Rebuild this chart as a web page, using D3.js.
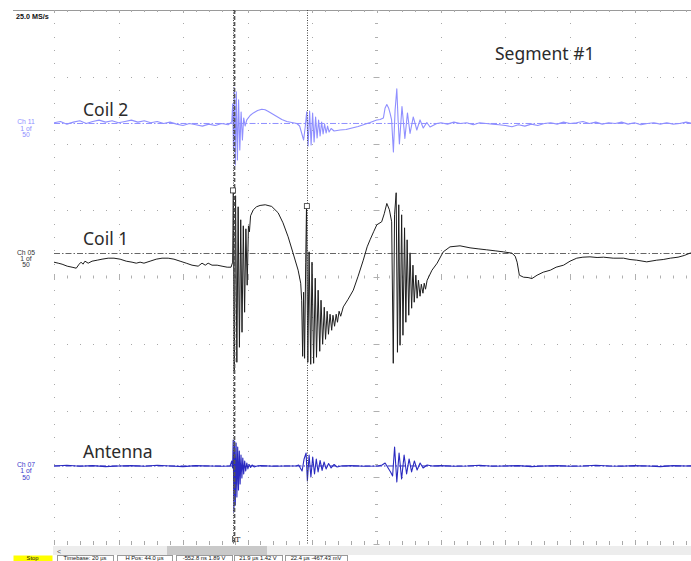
<!DOCTYPE html>
<html><head><meta charset="utf-8">
<script src="https://cdn.jsdelivr.net/npm/d3@7"></script>
<style>
html,body{margin:0;padding:0;background:#fff;overflow:hidden;}
svg{display:block;}
</style></head><body>
<script>
// ---------- DATA ----------
const timeDomain = [-56, 144];          // µs (20 µs/div, 10 div)
const sampleRateLabel = "25.0 MS/s";
const cursorTimes = [-0.5, 22.4];       // µs
const triggerTime = 0;
const cursorValues = [1.89, 1.42];      // V on Coil 1

// Coil 2 (Ch 11) – mV, 100 mV/div
const coil2Data = [
[-56,1],[-54,3],[-52,-1],[-50,2],[-48,4],[-46,0],[-44,3],[-42,5],[-40,2],[-38,4],[-36,1],[-34,3],[-32,5],[-30,2],[-28,4],[-26,1],[-24,3],[-22,0],[-20,2],[-18,-1],[-16,-3],[-14,0],[-12,-2],[-10,-4],[-8,-1],[-6,-3],[-4,0],[-2,-2],
[-0.87,2.3],[-0.59,29.3],[-0.34,-39.8],[-0.06,53.3],[0.22,-62.3],[0.53,47.3],[0.87,-54.8],[1.24,35.3],[1.61,-39.8],[2.02,17.3],[2.42,-24.8],[2.82,8.3],[3.26,-3.8],[3.78,5.3],
[4.81,12],[5.83,15.8],[7.13,19.5],[8.43,21.3],[9.46,20.6],[10.48,18],[11.78,14.3],[13.09,10.5],[14.64,6],[16.19,3],[17.74,1.5],[19.29,0],[20.16,-3.8],[20.78,-14.3],[21.4,-24.8],[21.86,-6.8],
[22.36,17.3],[22.79,-33.8],[23.26,18.8],[23.72,-32.3],[24.19,15.8],[24.65,-27.8],[25.12,9.8],[25.58,-21.8],[26.05,5.3],[26.51,-18.8],[26.98,2.3],[27.44,-15.8],[27.91,-0.8],[28.37,-14.3],[28.84,-3.8],[29.3,-12.8],
[29.92,-7.5],[30.85,-11.3],[32.71,-9.8],[34.57,-9],[36.43,-6.8],[38.3,-4.5],[40.16,-1.5],[42.02,1.5],[44.09,5.3],[45.12,6],[46.14,8.3],[46.67,23.3],[47.2,28.5],[47.75,23.3],[48.22,15],[48.68,5.3],
[49.24,-42.8],[49.77,20.3],[50.3,51.8],[50.7,5.3],[51.1,-30.8],[51.9,25.5],[52.8,-22.5],[53.6,15.8],[54.4,-15],[55.4,9.8],[56.5,-9.8],[57.5,5.3],[58.5,-6.8],[59.6,1.5],[60.6,-5.3],[62.7,0],
[64,1],[66,-1],[68,2],[70,0],[72,1],[74,-2],[76,1],[78,0],[80,-1],[82,-2],[84,-3],[86,-5],[88,-2],[90,-4],[92,-1],[94,-3],[96,0],[98,1],[100,-1],[102,2],[104,0],[106,1],[108,3],[110,0],[112,2],[114,-1],[116,1],[118,0],[120,2],[122,-1],[124,1],[126,-2],[128,0],[130,1],[132,-1],[134,1],[136,-1],[138,0],[140,2],[142,0],[144,1]
];

// Coil 1 (Ch 05) – V, 2 V/div
const coil1Data = [
[-56,-0.26],[-54.7,-0.29],[-53.5,-0.32],[-51.9,-0.38],[-50.4,-0.41],[-49.1,-0.44],[-48.2,-0.32],[-47.6,-0.26],[-47.0,-0.32],[-46.4,-0.23],[-45.4,-0.29],[-44.2,-0.23],[-42.6,-0.20],[-41.1,-0.17],[-39.2,-0.14],[-37.4,-0.14],[-35.5,-0.17],[-33.6,-0.23],[-31.8,-0.26],[-30.5,-0.29],[-29.3,-0.26],[-28.1,-0.29],[-26.2,-0.23],[-24.3,-0.17],[-22.5,-0.14],[-20.6,-0.14],[-18.8,-0.17],[-16.9,-0.23],[-15.0,-0.29],[-13.2,-0.35],[-11.3,-0.38],[-10.1,-0.29],[-9.1,-0.35],[-8.2,-0.29],[-7.0,-0.35],[-5.4,-0.35],[-3.9,-0.38],[-2.3,-0.41],[-1.1,-0.41],[-0.6,-0.26],
[-0.4,1.91],[-0.1,-3.56],[0.3,1.73],[0.7,-3.26],[1.1,1.40],[1.5,-2.81],[1.9,1.01],[2.3,-2.36],[2.7,0.83],[3.1,-1.76],[3.5,0.74],[3.9,-0.95],[4.3,0.83],[4.6,0.65],
[4.95,1.13],[5.8,1.31],[6.8,1.40],[7.9,1.44],[9.5,1.46],[11.5,1.41],[13.5,1.22],[15.0,0.92],[16.6,0.50],[18.1,0.02],[19.7,-0.50],[20.5,-0.89],
[20.8,-1.40],[21.1,-3.08],[21.4,-1.16],[21.7,-3.14],[22.05,-0.26],[22.3,1.46],[22.7,-3.26],[23.1,0.05],[23.6,-3.32],[24.0,-0.26],[24.5,-3.29],[25.0,-0.74],[25.4,-3.11],[25.9,-1.10],[26.4,-2.93],[26.8,-1.40],[27.3,-2.72],[27.8,-1.61],[28.2,-2.57],[28.7,-1.73],[29.1,-2.42],[29.6,-1.82],[30.1,-2.30],[30.5,-1.85],[31.0,-2.18],[31.5,-1.82],[31.9,-2.06],[32.4,-1.73],[32.9,-1.88],
[33.7,-1.60],[35.2,-1.37],[36.8,-1.10],[38.3,-0.68],[39.9,-0.20],[41.1,0.20],[42.0,0.41],[43.1,0.65],[44.1,0.86],[45.6,0.95],[46.4,1.19],[47.2,1.50],[48.0,1.31],[48.7,0.95],
[49.2,-3.29],[49.6,1.16],[50.1,1.82],[50.5,-2.96],[50.9,1.46],[51.3,-2.75],[51.8,1.16],[52.2,-2.45],[52.7,0.77],[53.1,-2.06],[53.5,0.41],[54.0,-1.85],[54.4,0.02],[54.9,-1.64],[55.3,-0.35],[55.7,-1.46],[56.2,-0.65],[56.6,-1.34],[57.0,-0.80],[57.5,-1.28],[57.9,-0.92],[58.4,-1.19],[58.8,-0.89],[59.2,-1.07],[59.7,-0.80],
[61.2,-0.50],[62.8,-0.29],[64.7,0.05],[66.8,0.20],[69.9,0.23],[73.0,0.17],[75.5,0.14],[78.2,0.11],[80.8,0.08],[83.3,0.05],[86.0,0.01],[87.0,-0.08],[87.6,-0.26],[88.3,-0.65],[89.6,-0.71],[91.0,-0.72],[92.2,-0.75],[93.8,-0.65],[95.7,-0.56],[97.9,-0.50],[99.7,-0.41],[102.0,-0.35],[104.0,-0.23],[106.1,-0.14],[108.0,-0.11],[110.2,-0.10],[112.4,-0.12],[114.4,-0.11],[117.4,-0.14],[120.6,-0.14],[122.6,-0.18],[124.7,-0.20],[127.8,-0.25],[130.9,-0.20],[132.9,-0.18],[135.1,-0.14],[137.5,-0.11],[139.4,-0.06],[141.2,0.01],[142.5,0.03],[144,0.05]
];

// Antenna (Ch 07) – mV, 200 mV/div
const antennaData = [
[-56,0],[-52,2],[-48,-1],[-44,1],[-40,-2],[-36,0],[-32,1],[-28,-1],[-24,2],[-20,0],[-16,-2],[-12,1],[-8,0],[-4,-1],
[-1.4,0],[-0.87,15],[-0.62,-6],[-0.43,78],[-0.22,-138],[0,75],[0.22,-117],[0.47,69],[0.71,-93],[0.96,57],[1.21,-72],[1.46,45],[1.71,-54],[1.98,33],[2.26,-36],[2.54,24],[2.82,-24],[3.13,15],[3.44,-15],[3.78,9],[4.12,-9],[4.5,4.5],[4.96,-4.5],[5.43,3],[6.05,-3],[6.98,0],
[8,1],[12,-1],[16,0],
[19.07,0],[19.85,3],[20.47,-7.5],[20.93,-15],[21.55,21],[22.17,39],[22.57,-45],[23.1,33],[23.66,-33],[24.22,27],[24.78,-24],[25.33,21],[25.89,-18],[26.51,16.5],[27.13,-13.5],[27.75,12],[28.37,-9],[29.15,7.5],[29.92,-6],[30.85,4.5],[31.78,-3],[33.02,0],
[36,1],[40,-1],
[44.5,0],[45.74,3],[46.67,9],[47.6,-6],[48.37,-18],[48.99,-30],[49.61,57],[50.3,-48],[51.0,39],[51.78,-39],[52.56,33],[53.33,-24],[54.11,21],[54.88,-18],[55.75,15],[56.59,-12],[57.52,9],[58.45,-6],[59.69,3],[61.24,0],
[64,1],[68,-1],[72,0],[76,2],[80,-1],[84,0],[88,1],[92,-2],[96,0],[100,1],[104,-1],[108,0],[112,2],[116,0],[120,-1],[124,1],[128,0],[132,-2],[136,1],[140,0],[144,1]
];

const channelIds = ["Ch 11", "Ch 05", "Ch 07"];
const channelNames = ["Coil 2", "Coil 1", "Antenna"];
const channelUnitsPerDiv = [100, 2, 200];
const channelOffsetsDiv = [2.30, 0.352, -2.831];
const segmentLabel = "Segment #1";
const statusLabels = ["Stop", "Timebase: 20 µs", "H Pos: 44.0 µs", "-552.8 ns 1.89 V", "21.9 µs 1.42 V", "22.4 µs -467.43 mV"];

// ---------- LAYOUT / STYLE ----------
const W = 691, H = 561;
const P = {left:54, right:699, top:10, bottom:544};
const colors = ["#8f8fff", "#1e1e1e", "#2a2ac0"];
const labelColors = ["#8f8fff", "#333", "#3a3acc"];
const statusBoxX = [13, 57, 117, 176, 234, 285];
const statusBoxW = [39, 56, 55, 56, 48, 62];

const svg = d3.select("body").append("svg").attr("width", W).attr("height", H);

const x = d3.scaleLinear().domain(timeDomain).range([P.left, P.right]);
const yDiv = d3.scaleLinear().domain([-4, 4]).range([P.bottom, P.top]);
const chY = i => v => yDiv(channelOffsetsDiv[i] + v / channelUnitsPerDiv[i]);

// header line
svg.append("line").attr("x1", 13).attr("x2", W).attr("y1", P.top + 0.5).attr("y2", P.top + 0.5)
  .attr("stroke", "#9a9a9a").attr("stroke-width", 1);
svg.append("text").attr("x", 16).attr("y", 19).text(sampleRateLabel)
  .attr("font-family", "Liberation Sans, Arial, sans-serif").attr("font-size", 7.2).attr("font-weight", "bold").attr("fill", "#111");

// grid
const g = svg.append("g");
const xMajors = d3.range(0, 11).map(i => timeDomain[0] + i * 20);
const xMinors = d3.range(0, 51).map(i => timeDomain[0] + i * 4);
const yMajors = d3.range(-4, 5);
const yMinors = d3.range(0, 41).map(i => -4 + i * 0.2);
const dotColor = "#a8a8a8";
xMajors.forEach(t => {
  yMinors.forEach(v => {
    g.append("rect").attr("x", Math.round(x(t))).attr("y", Math.round(yDiv(v))).attr("width", 1).attr("height", 1).attr("fill", dotColor);
  });
});
yMajors.forEach(v => {
  if (v === 4) return;
  xMinors.forEach(t => {
    g.append("rect").attr("x", Math.round(x(t))).attr("y", Math.round(yDiv(v))).attr("width", 1).attr("height", 1).attr("fill", dotColor);
  });
});
xMinors.forEach((t, i) => {
  const len = i % 5 === 0 ? 3 : 2;
  g.append("line").attr("x1", Math.round(x(t)) + 0.5).attr("x2", Math.round(x(t)) + 0.5)
    .attr("y1", P.top).attr("y2", P.top + len).attr("stroke", "#aaa");
});
xMinors.forEach((t, i) => {
  const len = i % 5 === 0 ? 4 : 3;
  g.append("line").attr("x1", Math.round(x(t)) + 0.5).attr("x2", Math.round(x(t)) + 0.5)
    .attr("y1", P.bottom).attr("y2", P.bottom - len).attr("stroke", "#aaa");
});
xMinors.forEach((t, i) => {
  const len = i % 5 === 0 ? 3 : 1.5;
  g.append("line").attr("x1", Math.round(x(t)) + 0.5).attr("x2", Math.round(x(t)) + 0.5)
    .attr("y1", yDiv(0) - len).attr("y2", yDiv(0) + len).attr("stroke", "#b0b0b0");
});
yMinors.forEach((v, i) => {
  const len = i % 5 === 0 ? 3 : 1.5;
  g.append("line").attr("x1", x(timeDomain[0] + 100) - len).attr("x2", x(timeDomain[0] + 100) + len)
    .attr("y1", Math.round(yDiv(v)) + 0.5).attr("y2", Math.round(yDiv(v)) + 0.5).attr("stroke", "#b0b0b0");
});

svg.append("clipPath").attr("id", "clip").append("rect")
  .attr("x", P.left).attr("y", P.top).attr("width", P.right - P.left).attr("height", P.bottom - P.top);

// reference (offset) dash-dot lines
[0, 1, 2].forEach(i => {
  svg.append("line").attr("x1", P.left).attr("x2", W).attr("y1", chY(i)(0)).attr("y2", chY(i)(0))
    .attr("stroke", i === 1 ? "#666" : colors[i]).attr("stroke-width", 1)
    .attr("stroke-dasharray", "6,2,1.5,2");
});

// traces
const series = [coil2Data, coil1Data, antennaData];
const tr = svg.append("g").attr("clip-path", "url(#clip)");
series.forEach((data, i) => {
  const line = d3.line().x(d => x(d[0])).y(d => chY(i)(d[1]));
  tr.append("path").datum(data).attr("d", line).attr("fill", "none")
    .attr("stroke", colors[i]).attr("stroke-width", i === 1 ? 1 : 1.1).attr("stroke-linejoin", "round");
});

// trigger + cursors
svg.append("line").attr("x1", x(triggerTime)).attr("x2", x(triggerTime)).attr("y1", P.top).attr("y2", P.bottom)
  .attr("stroke", "#555").attr("stroke-width", 1.5).attr("stroke-dasharray", "4,2");
cursorTimes.forEach(t => {
  svg.append("line").attr("x1", Math.round(x(t)) + 0.5).attr("x2", Math.round(x(t)) + 0.5).attr("y1", P.top).attr("y2", P.bottom)
    .attr("stroke", "#444").attr("stroke-width", 1).attr("stroke-dasharray", "1,1.5");
});
cursorTimes.forEach((t, k) => {
  svg.append("rect").attr("x", x(t) - 2.5).attr("y", chY(1)(cursorValues[k]) - 2.5).attr("width", 5).attr("height", 5)
    .attr("fill", "#fff").attr("stroke", "#333").attr("stroke-width", 0.8);
});
svg.append("path").attr("d", `M${x(triggerTime)-2},${P.bottom-8} V${P.bottom-2} H${x(triggerTime)}`).attr("fill", "none").attr("stroke", "#333").attr("stroke-width", 0.8);
svg.append("text").attr("x", x(triggerTime) + 0.5).attr("y", P.bottom - 2).text("T")
  .attr("font-family", "DejaVu Serif, serif").attr("font-size", 8).attr("fill", "#333");

// channel labels
channelIds.forEach((id, i) => {
  const yc = chY(i)(0);
  const t = svg.append("text").attr("text-anchor", "middle").attr("font-family", "Liberation Sans, Arial, sans-serif")
    .attr("font-size", 6.8).attr("fill", labelColors[i]);
  [id, "1 of", "50"].forEach((s, j) => {
    t.append("tspan").attr("x", 26).attr("y", yc + 1 + j * 6.3).text(s);
  });
});

// annotations
const annoX = [83, 83, 83];
const annoY = [116, 245, 458];
channelNames.forEach((n, i) => {
  svg.append("text").attr("x", annoX[i]).attr("y", annoY[i]).text(n)
    .attr("font-family", "Noto Sans, sans-serif").attr("font-size", 17.5).attr("fill", "#2b2b2b");
});
svg.append("text").attr("x", 495).attr("y", 60).text(segmentLabel)
  .attr("font-family", "Noto Sans, sans-serif").attr("font-size", 17.5).attr("fill", "#2b2b2b");

// scrollbar
svg.append("rect").attr("x", P.left - 1).attr("y", 546).attr("width", W - P.left + 1).attr("height", 9).attr("fill", "#ededed");
svg.append("rect").attr("x", 167).attr("y", 546).attr("width", 100).attr("height", 9).attr("fill", "#c9c9c9");
svg.append("text").attr("x", 57).attr("y", 553.5).text("<").attr("font-family", "Liberation Sans, Arial").attr("font-size", 7).attr("fill", "#555");

// status bar
const sb = svg.append("g").attr("font-family", "Liberation Sans, Arial, sans-serif").attr("font-size", 5.8).attr("fill", "#111");
statusLabels.forEach((s, i) => {
  const grp = sb.append("g");
  grp.append("rect").attr("x", statusBoxX[i] + 0.5).attr("y", 555.5).attr("width", statusBoxW[i]).attr("height", 10)
    .attr("fill", i === 0 ? "#ffff00" : "#fff").attr("stroke", i === 0 ? "none" : "#9a9a9a").attr("stroke-width", 1);
  grp.append("text").attr("x", statusBoxX[i] + statusBoxW[i] / 2).attr("y", 560.3).attr("text-anchor", "middle").text(s);
});
</script>
</body></html>
